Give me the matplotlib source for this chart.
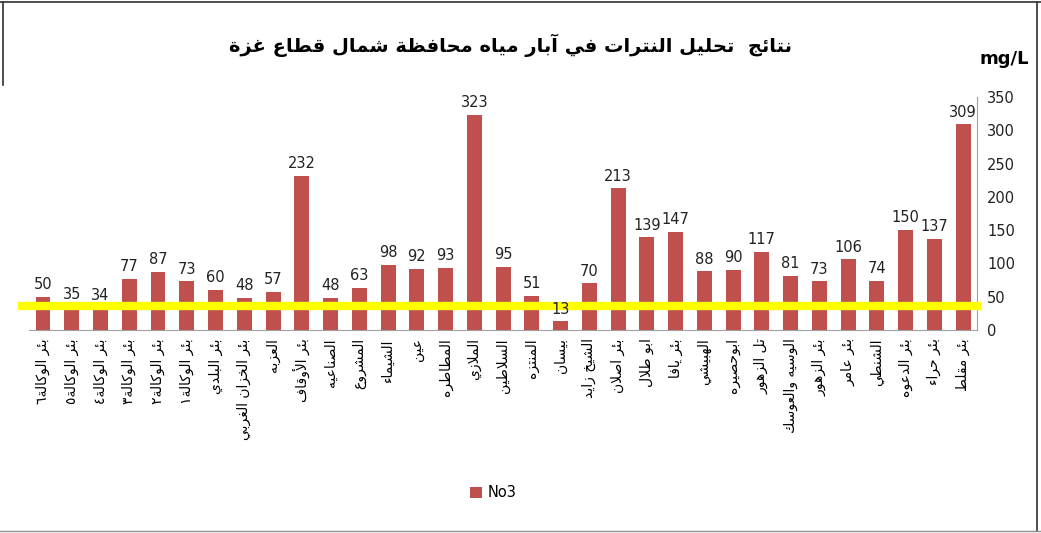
import matplotlib
matplotlib.use("Agg")
from matplotlib import pyplot as plt
from matplotlib.lines import Line2D
import numpy as np

# well names (north Gaza), left to right as in the chart
wells = ["بئر الوكالة٦", "بئر الوكالة٥", "بئر الوكالة٤", "بئر الوكالة٣", "بئر الوكالة٢",
         "بئر الوكالة١", "بئر البلدي", "بئر الخزان الغربي", "العزبه", "بئر الأوقاف",
         "الصناعيه", "المشروع", "الشيماء", "عين", "المطاطره", "الملازي", "السلاطين",
         "المنتزه", "بيسان", "الشيخ زايد", "بئر اصلان", "ابو طلال", "بئر يافا",
         "الهبيشي", "ابوحصيره", "تل الزهور", "الوسيه والعوسك", "بئر الزهور",
         "بئر عامر", "الشنطي", "بئر الدعوه", "بئر حراء", "بئر مقلط"]
no3 = [50, 35, 34, 77, 87, 73, 60, 48, 57, 232, 48, 63, 98, 92, 93, 323, 95,
       51, 13, 70, 213, 139, 147, 88, 90, 117, 81, 73, 106, 74, 150, 137, 309]
limit_line = 36
y_ticks = [0, 50, 100, 150, 200, 250, 300, 350]
title = "نتائج  تحليل النترات في آبار مياه محافظة شمال قطاع غزة"

# --- tiny arabic shaper: presentation forms + reversed for RTL ---
forms = {"ء": (0xFE80, 1), "آ": (0xFE81, 2), "أ": (0xFE83, 2), "ؤ": (0xFE85, 2),
         "إ": (0xFE87, 2), "ئ": (0xFE89, 4), "ا": (0xFE8D, 2), "ب": (0xFE8F, 4),
         "ة": (0xFE93, 2), "ت": (0xFE95, 4), "ث": (0xFE99, 4), "ج": (0xFE9D, 4),
         "ح": (0xFEA1, 4), "خ": (0xFEA5, 4), "د": (0xFEA9, 2), "ذ": (0xFEAB, 2),
         "ر": (0xFEAD, 2), "ز": (0xFEAF, 2), "س": (0xFEB1, 4), "ش": (0xFEB5, 4),
         "ص": (0xFEB9, 4), "ض": (0xFEBD, 4), "ط": (0xFEC1, 4), "ظ": (0xFEC5, 4),
         "ع": (0xFEC9, 4), "غ": (0xFECD, 4), "ف": (0xFED1, 4), "ق": (0xFED5, 4),
         "ك": (0xFED9, 4), "ل": (0xFEDD, 4), "م": (0xFEE1, 4), "ن": (0xFEE5, 4),
         "ه": (0xFEE9, 4), "و": (0xFEED, 2), "ى": (0xFEEF, 2), "ي": (0xFEF1, 4)}
lam_alef = {"آ": 0xFEF5, "أ": 0xFEF7, "إ": 0xFEF9, "ا": 0xFEFB}


def shape(text):
    out = []
    i = 0
    n = len(text)
    while i < n:
        c = text[i]
        if c not in forms:
            out.append(c)
            i += 1
            continue
        prev = text[i - 1] if i > 0 else ""
        joins_prev = prev in forms and forms[prev][1] == 4
        if c == "ل" and i + 1 < n and text[i + 1] in lam_alef:
            out.append(chr(lam_alef[text[i + 1]] + (1 if joins_prev else 0)))
            i += 2
            continue
        base, kind = forms[c]
        nxt = text[i + 1] if i + 1 < n else ""
        joins_next = kind == 4 and nxt in forms
        if kind == 1:
            g = base
        elif kind == 2:
            g = base + (1 if joins_prev else 0)
        else:
            if joins_prev and joins_next:
                g = base + 3
            elif joins_next:
                g = base + 2
            elif joins_prev:
                g = base + 1
            else:
                g = base
        out.append(chr(g))
        i += 1
    return "".join(out)[::-1]


plt.rcParams['font.family'] = ['DejaVu Sans']

fig = plt.figure(figsize=(10.41, 5.33), dpi=100)
ax = fig.add_axes([0.0275, 0.381, 0.9115, 0.437])

x = np.arange(len(no3))
ax.bar(x, no3, width=0.52, color="#C0504D", label="No3", zorder=2)
for xi, v in zip(x, no3):
    ax.text(xi, v + 7, str(v), ha="center", va="bottom", fontsize=10.5,
            color="#222222", zorder=5)

ax.axhline(limit_line, color="#FFFF00", lw=6, zorder=3, xmin=-0.007, xmax=1.0, clip_on=False)

ax.set_xlim(-0.5, len(no3) - 0.5)
ax.set_ylim(0, 350)
ax.yaxis.tick_right()
ax.set_yticks(y_ticks)
ax.tick_params(axis="y", length=0, labelsize=10.5, pad=7, labelcolor="#222222")
ax.set_xticks(x)
ax.set_xticklabels([shape(w) for w in wells], rotation=90, fontsize=10, va="top", ha="center")
ax.tick_params(axis="x", length=0, pad=6)
for s in ["top", "left"]:
    ax.spines[s].set_visible(False)
ax.spines["right"].set_color("#A0A0A0")
ax.spines["bottom"].set_color("#A0A0A0")

fig.text(0.49, 0.915, shape(title), ha="center", va="center", fontsize=14, fontweight="bold")
fig.text(0.965, 0.89, "mg/L", ha="center", va="center", fontsize=13, fontweight="bold")

ax.legend(loc="center", bbox_to_anchor=(0.49, -0.70), frameon=False, fontsize=10.5,
          handlelength=0.8, handleheight=0.8, handletextpad=0.4)

# partial frame left over from the screenshot
frame = dict(transform=fig.transFigure, color="#303030", lw=1.2)
fig.add_artist(Line2D([0, 1], [0.996, 0.996], **frame))
fig.add_artist(Line2D([0.003, 0.003], [0.996, 0.84], **frame))
fig.add_artist(Line2D([0.996, 0.996], [0.996, 0.004], **frame))
fig.add_artist(Line2D([0, 1], [0.004, 0.004], color="#909090", lw=1.0, transform=fig.transFigure))

fig.savefig("out.png", dpi=100)
